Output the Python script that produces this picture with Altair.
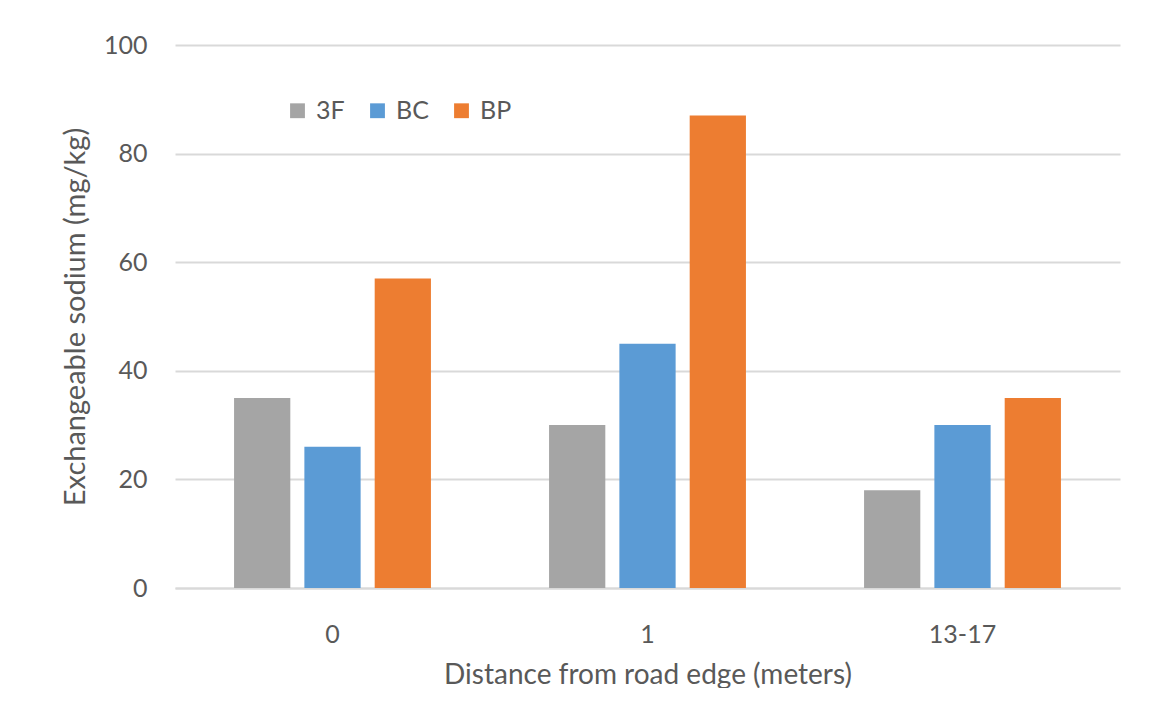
import altair as alt
import pandas as pd

distances = ["0", "1", "13-17"]
series = ["3F", "BC", "BP"]
values_3f = [35, 30, 18]
values_bc = [26, 45, 30]
values_bp = [57, 87, 35]
colors = ["#a5a5a5", "#5b9bd5", "#ed7d31"]

rows = []
for d, a, b, c in zip(distances, values_3f, values_bc, values_bp):
    rows.append({"distance": d, "series": "3F", "value": a})
    rows.append({"distance": d, "series": "BC", "value": b})
    rows.append({"distance": d, "series": "BP", "value": c})
df = pd.DataFrame(rows)

FONT = "Lato"
TXT = "#595959"

chart = alt.Chart(df).mark_bar().encode(
    x=alt.X("distance:N", sort=distances,
            scale=alt.Scale(paddingInner=0.375, paddingOuter=0.1875),
            axis=alt.Axis(title="Distance from road edge (meters)", labelAngle=0,
                          domain=True, domainColor="#d9d9d9", domainWidth=2,
                          ticks=False, labelPadding=34, titlePadding=14,
                          labelFontSize=25, titleFontSize=28,
                          labelColor=TXT, titleColor=TXT,
                          labelFont=FONT, titleFont=FONT, titleFontWeight="normal")),
    xOffset=alt.XOffset("series:N", sort=series,
                        scale=alt.Scale(paddingInner=0.2, paddingOuter=0)),
    y=alt.Y("value:Q", scale=alt.Scale(domain=[0, 100]),
            axis=alt.Axis(title="Exchangeable sodium (mg/kg)", values=[0, 20, 40, 60, 80, 100],
                          domain=False, ticks=False, grid=True, gridColor="#d9d9d9", gridWidth=2,
                          labelPadding=28, titlePadding=13,
                          labelFontSize=25, titleFontSize=29,
                          labelColor=TXT, titleColor=TXT,
                          labelFont=FONT, titleFont=FONT, titleFontWeight="normal")),
    color=alt.Color("series:N", sort=series,
                    scale=alt.Scale(domain=series, range=colors),
                    legend=alt.Legend(title=None, orient="none", legendX=110, legendY=53,
                                      direction="horizontal", symbolType="square",
                                      symbolSize=220, symbolStrokeWidth=0,
                                      labelFontSize=25, labelFont=FONT, labelColor=TXT,
                                      columnPadding=20, labelOffset=6)),
).properties(
    width=945, height=543,
    padding={"left": 167, "top": 37, "right": 20, "bottom": 100},
    autosize=alt.AutoSizeParams(type="none"),
    background="white",
).configure_view(stroke=None)

chart.save("out.html", embed_options={"renderer": "svg", "actions": False})
